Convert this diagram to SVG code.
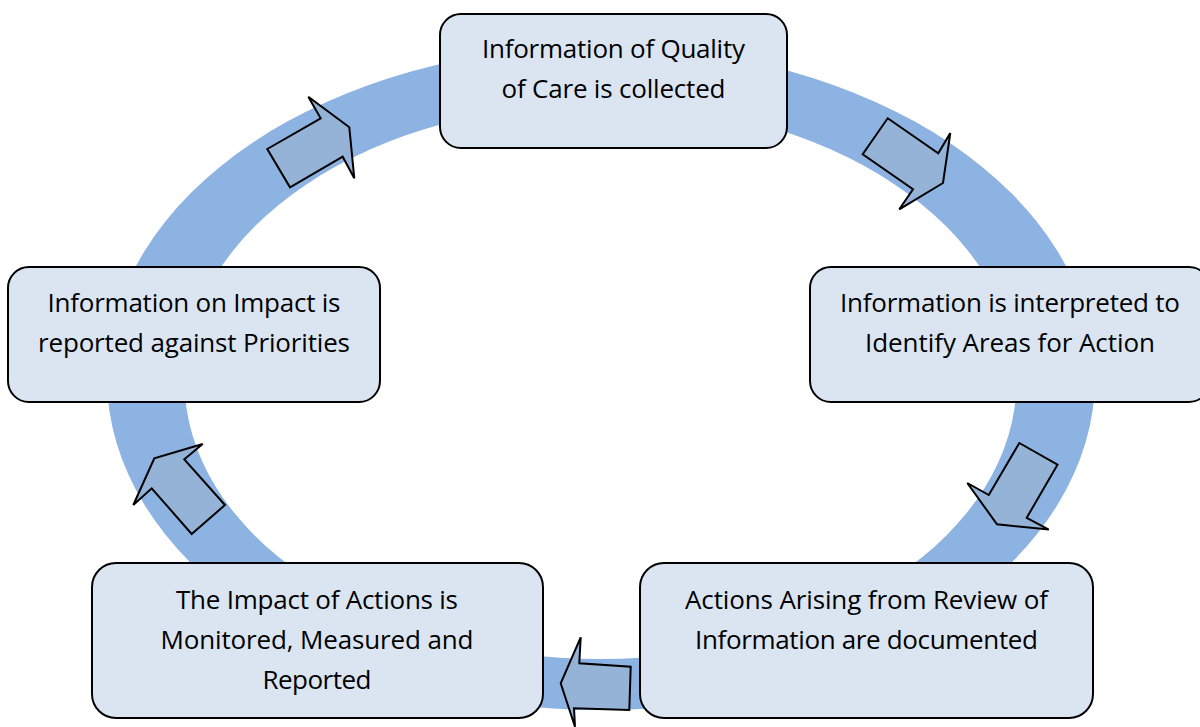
<svg xmlns="http://www.w3.org/2000/svg" width="1200" height="727" viewBox="0 0 1200 727">
<style>
.box{fill:#DBE5F1;stroke:#000;stroke-width:2}
.arr{fill:#95B3D7;stroke:#000;stroke-width:2;stroke-linejoin:miter}
.t{font-family:"Open Sans","Noto Sans",sans-serif;font-size:26px;fill:#000;text-anchor:middle}
</style>
<rect width="1200" height="727" fill="#fff"/>
<g id="ring">
<path fill="#8DB3E2" fill-rule="evenodd" d="M107,378 A494,332 0 1,0 1095,378 A494,332 0 1,0 107,378 Z M184.5,381 A416,278 0 1,0 1016.5,381 A416,278 0 1,0 184.5,381 Z"/>
</g>
<g id="connectors">
<polygon class="arr" points="267.3,149 320.7,118.3 308.3,96.7 349.3,127.3 354.3,178.3 342.7,156.7 290,187.3"/>
<polygon class="arr" points="887.7,118.3 938.3,153.3 950.3,133 943,183 899.3,209.3 913,189.3 862.7,154.3"/>
<polygon class="arr" points="1019.3,443 1057.5,464.7 1026.7,517.8 1048.8,529.6 997,524.3 967.3,483 988.8,495"/>
<polygon class="arr" points="630.7,666.7 629.3,710 574,708.3 575,726.7 560.7,683.3 580.7,637.3 579.3,663.3"/>
<polygon class="arr" points="191.7,534 225,505 184.3,459.3 202.7,444 154.3,458.3 133.3,505 151.7,488.3"/>
</g>
<g id="node-collected">
<rect class="box" x="440" y="14" width="347" height="134" rx="21"/>
<text class="t" x="613.5" y="58" textLength="263">Information of Quality</text>
<text class="t" x="613.5" y="98" textLength="224">of Care is collected</text>
</g>
<g id="node-interpreted">
<rect class="box" x="810" y="267" width="400" height="135" rx="21"/>
<text class="t" x="1010" y="312" textLength="340">Information is interpreted to</text>
<text class="t" x="1010" y="352" textLength="290">Identify Areas for Action</text>
</g>
<g id="node-documented">
<rect class="box" x="640" y="563" width="453" height="155" rx="24"/>
<text class="t" x="866.5" y="609" textLength="363">Actions Arising from Review of</text>
<text class="t" x="866.5" y="649" textLength="343">Information are documented</text>
</g>
<g id="node-monitored">
<rect class="box" x="92" y="563" width="451" height="155" rx="24"/>
<text class="t" x="317" y="609" textLength="282">The Impact of Actions is</text>
<text class="t" x="317" y="649" textLength="313">Monitored, Measured and</text>
<text class="t" x="317" y="689" textLength="109">Reported</text>
</g>
<g id="node-reported">
<rect class="box" x="8" y="267" width="372" height="135" rx="21"/>
<text class="t" x="194" y="312" textLength="293">Information on Impact is</text>
<text class="t" x="194" y="352" textLength="312">reported against Priorities</text>
</g>
</svg>
